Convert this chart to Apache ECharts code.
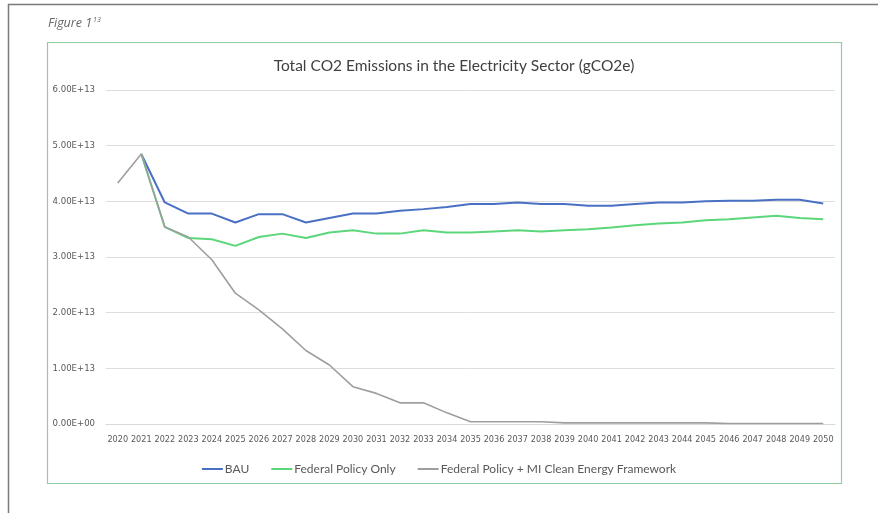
<!DOCTYPE html>
<html><head><meta charset="utf-8">
<script src="https://cdn.jsdelivr.net/npm/echarts@6/dist/echarts.min.js"></script>
<style>html,body{margin:0;padding:0;background:#fff}#c{width:878px;height:513px}</style>
</head><body><div id="c"></div>
<script>
const years = ['2020','2021','2022','2023','2024','2025','2026','2027','2028','2029','2030','2031','2032','2033','2034','2035','2036','2037','2038','2039','2040','2041','2042','2043','2044','2045','2046','2047','2048','2049','2050'];
const yTicks = [0, 1e13, 2e13, 3e13, 4e13, 5e13, 6e13];
const bau = [null, 4.85e13, 3.98e13, 3.78e13, 3.78e13, 3.62e13, 3.77e13, 3.77e13, 3.62e13, 3.70e13, 3.78e13, 3.78e13, 3.83e13, 3.86e13, 3.90e13, 3.95e13, 3.95e13, 3.98e13, 3.95e13, 3.95e13, 3.92e13, 3.92e13, 3.95e13, 3.98e13, 3.98e13, 4.00e13, 4.01e13, 4.01e13, 4.03e13, 4.03e13, 3.96e13];
const fedOnly = [null, 4.85e13, 3.54e13, 3.34e13, 3.32e13, 3.20e13, 3.36e13, 3.42e13, 3.34e13, 3.44e13, 3.48e13, 3.42e13, 3.42e13, 3.48e13, 3.44e13, 3.44e13, 3.46e13, 3.48e13, 3.46e13, 3.48e13, 3.50e13, 3.53e13, 3.57e13, 3.60e13, 3.62e13, 3.66e13, 3.68e13, 3.71e13, 3.74e13, 3.70e13, 3.68e13];
const fedMI = [4.33e13, 4.85e13, 3.54e13, 3.36e13, 2.95e13, 2.35e13, 2.05e13, 1.71e13, 1.32e13, 1.06e13, 0.67e13, 0.55e13, 0.38e13, 0.38e13, 0.20e13, 0.04e13, 0.04e13, 0.04e13, 0.04e13, 0.02e13, 0.02e13, 0.02e13, 0.02e13, 0.02e13, 0.02e13, 0.02e13, 0.01e13, 0.01e13, 0.01e13, 0.01e13, 0.01e13];
const seriesNames = ['BAU', 'Federal Policy Only', 'Federal Policy + MI Clean Energy Framework'];

const chart = echarts.init(document.getElementById('c'), null, {renderer: 'canvas'});
const txt = '#595959';
const narrow = 'Liberation Sans Narrow, DejaVu Sans Condensed, sans-serif';
const sci = v => {
  const s = v.toExponential(2).toUpperCase();
  const m = s.match(/^(.*)E([+-])(\d+)$/);
  return m[1] + 'E' + m[2] + m[3].padStart(2, '0');
};
const mkLine = (name, data, color, w) => ({
  name, type: 'line', data, symbol: 'none', smooth: false,
  lineStyle: {color, width: w}, itemStyle: {color}, z: 3, animation: false
});
chart.setOption({
  animation: false,
  graphic: [
    {type: 'line', shape: {x1: 8, y1: 4.5, x2: 878, y2: 4.5}, style: {stroke: '#7a7a7a', lineWidth: 1.5}},
    {type: 'line', shape: {x1: 8.5, y1: 4, x2: 8.5, y2: 513}, style: {stroke: '#7a7a7a', lineWidth: 1.5}},
    {type: 'rect', shape: {x: 47.5, y: 42.5, width: 794, height: 441}, style: {fill: 'none', stroke: '#8fcf9f', lineWidth: 1.2}},
    {type: 'text', left: 48, top: 16, style: {
      text: '{a|Figure 1}{s|13}', rich: {
        a: {fontFamily: 'Open Sans', fontStyle: 'italic', fontSize: 12.5, fill: '#666'},
        s: {fontFamily: 'Open Sans', fontStyle: 'italic', fontSize: 7, fill: '#666', verticalAlign: 'top', padding: [0,0,7,1]}
      }}}
  ],
  title: {
    text: 'Total CO2 Emissions in the Electricity Sector (gCO2e)',
    left: 449, top: 53, textAlign: 'center',
    textStyle: {fontFamily: 'Lato', fontWeight: 'normal', fontSize: 15.5, color: '#404040'}
  },
  legend: {
    data: seriesNames, top: 458, left: 'center',
    icon: 'rect', itemWidth: 21, itemHeight: 2, itemGap: 22,
    textStyle: {fontFamily: 'Lato', fontSize: 12, color: txt, padding: [0,0,0,-3]}
  },
  grid: {left: 106, right: 43, top: 90, bottom: 89, containLabel: false},
  xAxis: {
    type: 'category', data: years, boundaryGap: true,
    axisLine: {show: true, lineStyle: {color: '#d9d9d9'}},
    axisTick: {show: false},
    axisLabel: {interval: 0, margin: 11, fontFamily: narrow, fontSize: 9, color: txt}
  },
  yAxis: {
    type: 'value', min: yTicks[0], max: yTicks[yTicks.length - 1], interval: 1e13,
    axisLine: {show: false}, axisTick: {show: false},
    splitLine: {lineStyle: {color: '#dedede', width: 1}},
    axisLabel: {margin: 11, fontFamily: narrow, fontSize: 9.5, color: txt, formatter: sci}
  },
  series: [
    mkLine(seriesNames[0], bau, '#4a70c4', 2),
    mkLine(seriesNames[1], fedOnly, '#5cd67a', 2),
    mkLine(seriesNames[2], fedMI, '#9e9e9e', 1.6)
  ]
});
</script></body></html>
